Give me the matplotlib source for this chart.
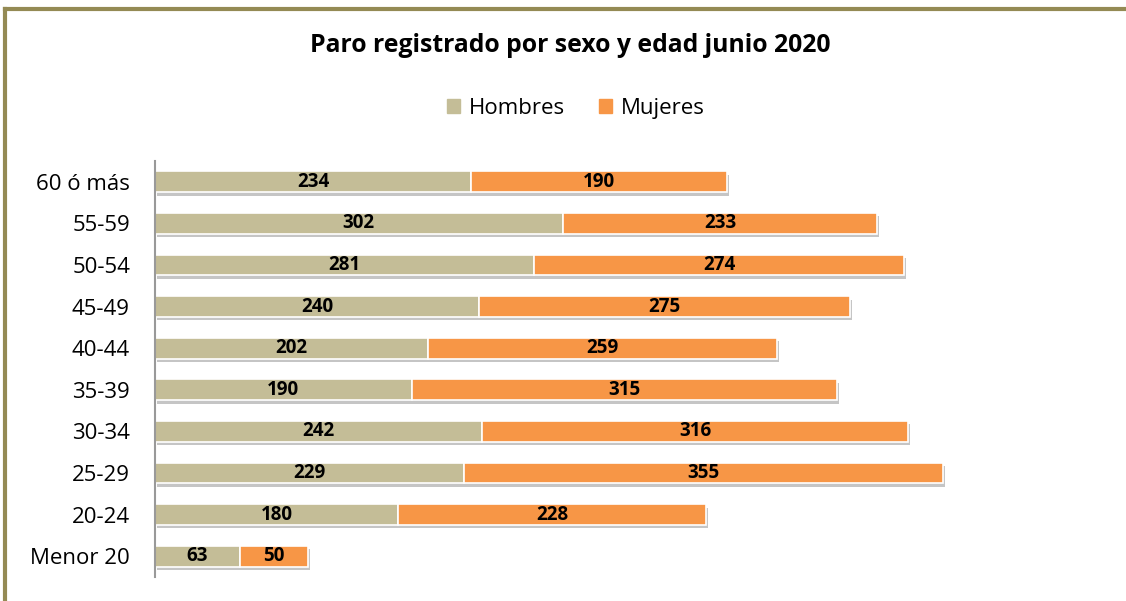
import matplotlib.pyplot as plt
import matplotlib.patheffects as pe
from matplotlib.patches import Rectangle

# age groups, bottom to top
AGE_GROUPS = ["Menor 20", "20-24", "25-29", "30-34", "35-39",
              "40-44", "45-49", "50-54", "55-59", "60 ó más"]
HOMBRES = [63, 180, 229, 242, 190, 202, 240, 281, 302, 234]
MUJERES = [50, 228, 355, 316, 315, 259, 275, 274, 233, 190]

KHAKI = "#C4BD97"
ORANGE = "#F79646"
FONT = "Open Sans"

fig = plt.figure(figsize=(11.26, 6.01), dpi=100)
ax = fig.add_axes([155 / 1126, 1 - 577 / 601, (1100 - 155) / 1126, (577 - 161) / 601])

shadow = [pe.SimplePatchShadow(offset=(1.5, -2.5), shadow_rgbFace="#7f7f7f", alpha=0.45), pe.Normal()]
ypos = list(range(len(AGE_GROUPS)))
h = 0.5
b1 = ax.barh(ypos, HOMBRES, height=h, color=KHAKI, edgecolor="white", linewidth=1.2)
b2 = ax.barh(ypos, MUJERES, left=HOMBRES, height=h, color=ORANGE, edgecolor="white", linewidth=1.2)
for bar in list(b1) + list(b2):
    bar.set_path_effects(shadow)

for bars in (b1, b2):
    ax.bar_label(bars, label_type="center", fontsize=13.5, fontweight="bold",
                 fontfamily=FONT, color="black")

ax.set_xlim(0, 700)
ax.set_ylim(-0.5, len(AGE_GROUPS) - 0.5)
ax.set_yticks(ypos)
ax.set_yticklabels(AGE_GROUPS, fontsize=16, fontfamily=FONT)
ax.tick_params(axis="y", length=0, pad=18)
ax.set_xticks([])
for s in ("top", "right", "bottom"):
    ax.spines[s].set_visible(False)
ax.spines["left"].set_color("#999999")
ax.spines["left"].set_linewidth(1.5)

fig.text(570 / 1126, 1 - 46 / 601, "Paro registrado por sexo y edad junio 2020",
         ha="center", va="center", fontsize=17.8, fontweight="bold", fontfamily=FONT)

handles = [Rectangle((0, 0), 1, 1, color=KHAKI), Rectangle((0, 0), 1, 1, color=ORANGE)]
fig.legend(handles, ["Hombres", "Mujeres"], loc="center", bbox_to_anchor=(576 / 1126, 1 - 108 / 601),
           ncol=2, frameon=False, prop={"family": FONT, "size": 16},
           handlelength=0.6, handleheight=0.6, handletextpad=0.4, columnspacing=1.5)

# olive frame (only top and left edges visible in the cropped original)
fig.add_artist(plt.Line2D([5 / 1126, 5 / 1126], [0, 1 - 9 / 601], transform=fig.transFigure,
                          color="#948A54", linewidth=3))
fig.add_artist(plt.Line2D([5 / 1126, 1], [1 - 9 / 601, 1 - 9 / 601], transform=fig.transFigure,
                          color="#948A54", linewidth=3))

fig.savefig("out.png", dpi=100)
